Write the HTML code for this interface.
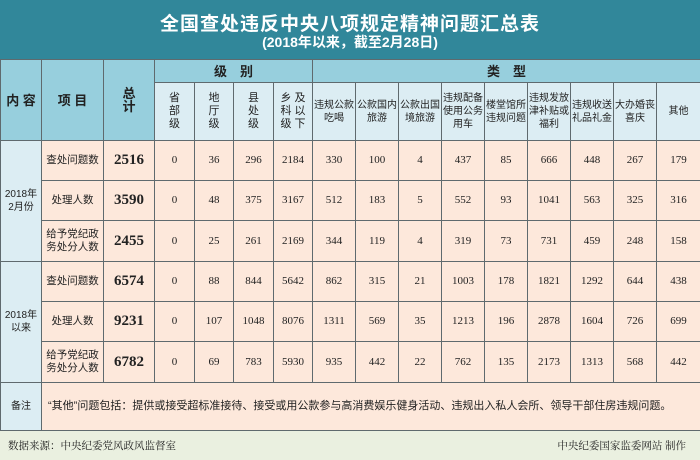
<!DOCTYPE html><html><head><meta charset="utf-8"><style>
body{margin:0;width:700px;height:460px;overflow:hidden;background:#eaf0e0;font-family:"Liberation Sans","Noto Sans CJK SC",sans-serif}
.top{position:absolute;left:0;top:0;width:700px;height:59px;background:#31879a;color:#fff;text-align:center}
.t1{position:absolute;left:0;width:700px;top:9px;font-size:19px;font-weight:bold;letter-spacing:1px}
.t2{position:absolute;left:0;width:700px;top:32px;font-size:14px;font-weight:bold}
table{position:absolute;left:0;top:59px;border-collapse:collapse;table-layout:fixed;width:700px}
td{border:1px solid #5f6a6e;text-align:center;padding:0;font-size:10px;line-height:13px;color:#222;overflow:hidden}
.h{background:#97cfdd;font-size:13px;font-weight:bold}
.s{background:#dcedf3;font-size:10px}
.d{background:#fde8db;font-family:"Liberation Serif","Noto Serif CJK SC",serif;font-size:11px}
.c{font-family:"Liberation Sans","Noto Sans CJK SC",sans-serif;font-size:10.5px}
.b{font-weight:bold;font-size:15px}
.l{background:#dcedf3}
.foot{position:absolute;top:438px;font-size:10.5px;color:#222;font-family:"Liberation Serif","Noto Serif CJK SC",serif}
</style></head><body>
<div class="top"><div class="t1">全国查处违反中央八项规定精神问题汇总表</div><div class="t2">(2018年以来，截至2月28日)</div></div>
<table>
<colgroup><col style="width:41px"><col style="width:62px"><col style="width:51px"><col style="width:40px"><col style="width:39px"><col style="width:40px"><col style="width:39px"><col style="width:43px"><col style="width:43px"><col style="width:43px"><col style="width:43px"><col style="width:43px"><col style="width:43px"><col style="width:43px"><col style="width:43px"><col style="width:44px"></colgroup>
<tr style="height:23px"><td class="h" rowspan="2">内 容</td><td class="h" rowspan="2">项 目</td><td class="h" rowspan="2">总<br>计</td><td class="h" colspan="4">级　别</td><td class="h" colspan="9">类　型</td></tr>
<tr style="height:58px"><td class="s" style="font-size:11px">省<br>部<br>级</td><td class="s" style="font-size:11px">地<br>厅<br>级</td><td class="s" style="font-size:11px">县<br>处<br>级</td><td class="s" style="font-size:11px">乡 及<br>科 以<br>级 下</td><td class="s">违规公款<br>吃喝</td><td class="s">公款国内<br>旅游</td><td class="s">公款出国<br>境旅游</td><td class="s">违规配备<br>使用公务<br>用车</td><td class="s">楼堂馆所<br>违规问题</td><td class="s">违规发放<br>津补贴或<br>福利</td><td class="s">违规收送<br>礼品礼金</td><td class="s">大办婚丧<br>喜庆</td><td class="s">其他</td></tr>
<tr style="height:40px"><td class="l" rowspan="3">2018年<br>2月份</td><td class="d c">查处问题数</td><td class="d b">2516</td><td class="d">0</td><td class="d">36</td><td class="d">296</td><td class="d">2184</td><td class="d">330</td><td class="d">100</td><td class="d">4</td><td class="d">437</td><td class="d">85</td><td class="d">666</td><td class="d">448</td><td class="d">267</td><td class="d">179</td></tr>
<tr style="height:40px"><td class="d c">处理人数</td><td class="d b">3590</td><td class="d">0</td><td class="d">48</td><td class="d">375</td><td class="d">3167</td><td class="d">512</td><td class="d">183</td><td class="d">5</td><td class="d">552</td><td class="d">93</td><td class="d">1041</td><td class="d">563</td><td class="d">325</td><td class="d">316</td></tr>
<tr style="height:41px"><td class="d c">给予党纪政<br>务处分人数</td><td class="d b">2455</td><td class="d">0</td><td class="d">25</td><td class="d">261</td><td class="d">2169</td><td class="d">344</td><td class="d">119</td><td class="d">4</td><td class="d">319</td><td class="d">73</td><td class="d">731</td><td class="d">459</td><td class="d">248</td><td class="d">158</td></tr>
<tr style="height:40px"><td class="l" rowspan="3">2018年<br>以来</td><td class="d c">查处问题数</td><td class="d b">6574</td><td class="d">0</td><td class="d">88</td><td class="d">844</td><td class="d">5642</td><td class="d">862</td><td class="d">315</td><td class="d">21</td><td class="d">1003</td><td class="d">178</td><td class="d">1821</td><td class="d">1292</td><td class="d">644</td><td class="d">438</td></tr>
<tr style="height:40px"><td class="d c">处理人数</td><td class="d b">9231</td><td class="d">0</td><td class="d">107</td><td class="d">1048</td><td class="d">8076</td><td class="d">1311</td><td class="d">569</td><td class="d">35</td><td class="d">1213</td><td class="d">196</td><td class="d">2878</td><td class="d">1604</td><td class="d">726</td><td class="d">699</td></tr>
<tr style="height:41px"><td class="d c">给予党纪政<br>务处分人数</td><td class="d b">6782</td><td class="d">0</td><td class="d">69</td><td class="d">783</td><td class="d">5930</td><td class="d">935</td><td class="d">442</td><td class="d">22</td><td class="d">762</td><td class="d">135</td><td class="d">2173</td><td class="d">1313</td><td class="d">568</td><td class="d">442</td></tr>
<tr style="height:48px"><td class="l">备注</td><td class="d c" colspan="15" style="text-align:left;padding-left:6px;font-size:11px">“其他”问题包括：提供或接受超标准接待、接受或用公款参与高消费娱乐健身活动、违规出入私人会所、领导干部住房违规问题。</td></tr>
</table>
<div class="foot" style="left:8px">数据来源：中央纪委党风政风监督室</div>
<div class="foot" style="right:14px">中央纪委国家监委网站 制作</div>
</body></html>
